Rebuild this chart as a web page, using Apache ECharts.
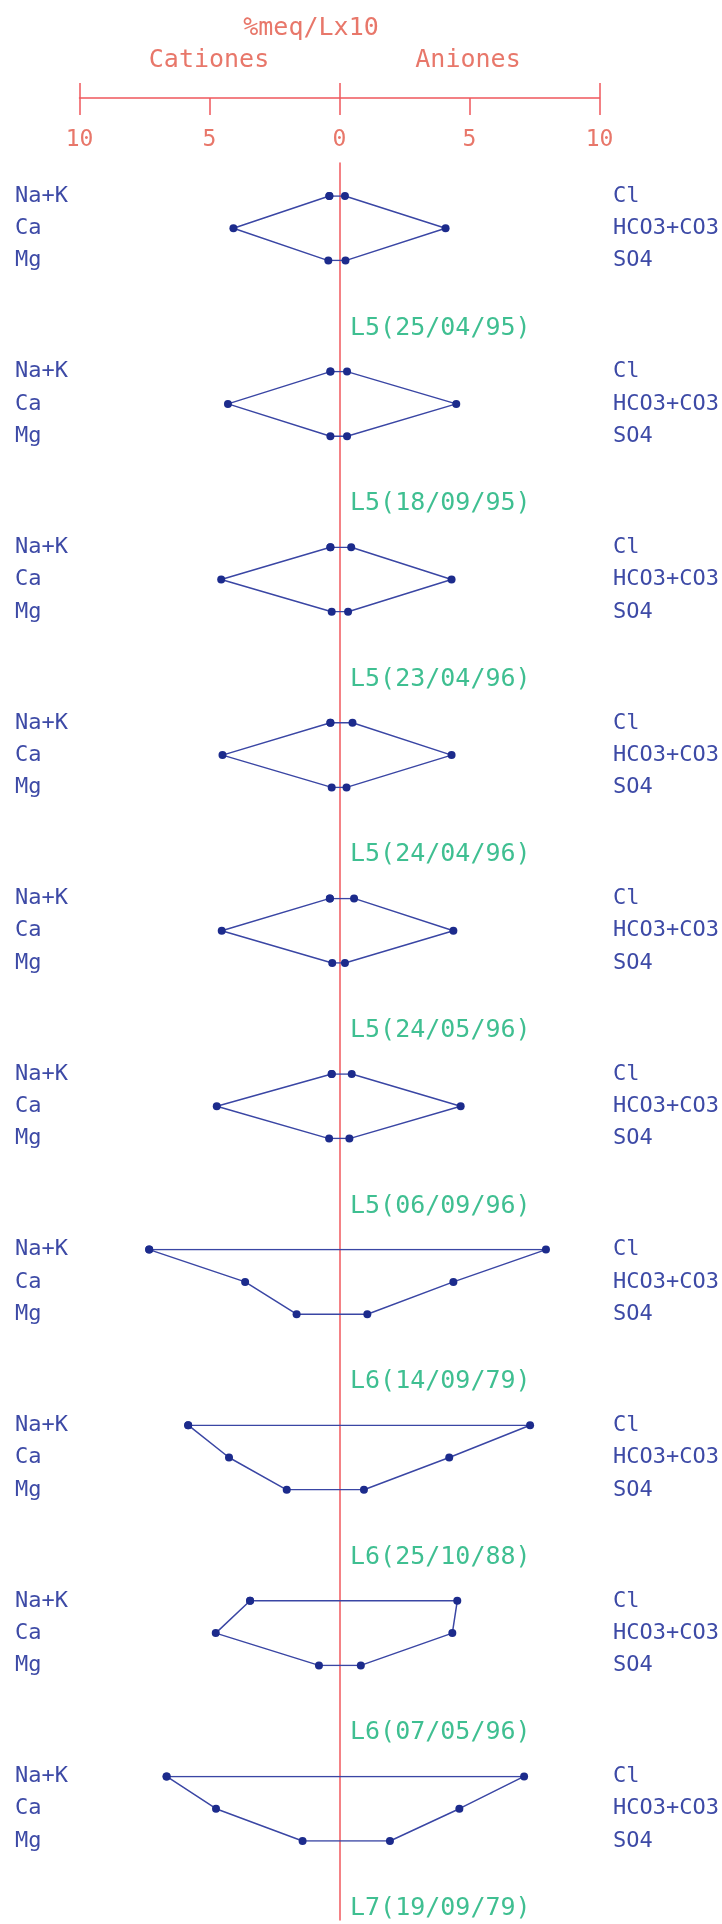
<!DOCTYPE html>
<html>
<head>
<meta charset="utf-8">
<script src="https://cdn.jsdelivr.net/npm/echarts@6/dist/echarts.min.js"></script>
<style>
html,body{margin:0;padding:0;background:#fff;}
#chart{width:722px;height:1924px;}
</style>
</head>
<body>
<div id="chart"></div>
<script>
// ---- data (values in %meq/L x10) ----
const sampleLabels = ['L5(25/04/95)','L5(18/09/95)','L5(23/04/96)','L5(24/04/96)','L5(24/05/96)',
                      'L5(06/09/96)','L6(14/09/79)','L6(25/10/88)','L6(07/05/96)','L7(19/09/79)'];
const cations = ['Na+K','Ca','Mg'];
const anions  = ['Cl','HCO3+CO3','SO4'];
const naK  = [0.39, 0.35, 0.35, 0.35, 0.37, 0.30, 7.32, 5.82, 3.44, 6.65];
const ca   = [4.08, 4.29, 4.55, 4.50, 4.53, 4.72, 3.63, 4.25, 4.76, 4.75];
const mg   = [0.43, 0.35, 0.30, 0.30, 0.28, 0.40, 1.65, 2.03, 0.79, 1.42];
const cl   = [0.21, 0.29, 0.45, 0.50, 0.56, 0.47, 7.94, 7.33, 4.53, 7.10];
const hco3 = [4.08, 4.49, 4.31, 4.31, 4.38, 4.66, 4.38, 4.22, 4.34, 4.61];
const so4  = [0.23, 0.29, 0.33, 0.27, 0.21, 0.38, 1.07, 0.94, 0.82, 1.94];
const scaleTicks = [-10, -5, 0, 5, 10];

// ---- layout / style ----
const GL = 79.5, GR = 722 - 599.5;
const TOP0 = 196, STEP = 175.6, ROWH = 64.6;
const FONT = "'DejaVu Sans Mono', 'Liberation Mono', monospace";
const RED = '#f0575c', RED_TXT = '#e8776a', BLUE_TXT = '#3d4aa6', GREEN = '#3fbf91';
const LINE = '#3a46a4', DOT = '#1c2b8c';

const grid = [], xAxis = [], yAxis = [], series = [], graphic = [];

// top scale
grid.push({left: GL, right: GR, top: 40, height: 58});
xAxis.push({gridIndex: 0, type: 'value', min: scaleTicks[0], max: scaleTicks[4], interval: 5, position: 'bottom',
  axisLine: {onZero: false, lineStyle: {color: RED, width: 1.5}},
  axisTick: {show: true, length: 17, lineStyle: {color: RED, width: 1.5}},
  splitLine: {show: false},
  axisLabel: {color: RED_TXT, fontSize: 23, fontFamily: FONT, margin: 31,
    formatter: v => scaleTicks.indexOf(v) >= 0 ? String(Math.abs(v)) : ''}
});
xAxis.push({gridIndex: 0, type: 'value', min: -10, max: 10, interval: 10, position: 'bottom',
  axisLine: {show: false, onZero: false}, axisLabel: {show: false}, splitLine: {show: false},
  axisTick: {show: true, inside: true, length: 15, lineStyle: {color: RED, width: 1.5}}
});
yAxis.push({gridIndex: 0, type: 'value', min: 0, max: 1, show: false});

// main grid: vertical zero line
grid.push({left: GL, right: GR, top: 163, bottom: 4});
xAxis.push({gridIndex: 1, type: 'value', min: -10, max: 10, show: false});
yAxis.push({gridIndex: 1, type: 'value', min: 0, max: 1,
  axisLine: {show: true, onZero: true, lineStyle: {color: RED, width: 1.5}},
  axisTick: {show: false}, axisLabel: {show: false}, splitLine: {show: false}});

// one grid per sample
sampleLabels.forEach((lab, g) => {
  const gi = g + 2;
  const top = TOP0 + STEP * g;
  grid.push({left: GL, right: GR, top: top, height: ROWH});
  const xi = xAxis.length;
  xAxis.push({gridIndex: gi, type: 'value', min: -10, max: 10, show: false});
  const yi = yAxis.length;
  const labStyle = {color: BLUE_TXT, fontSize: 22, fontFamily: FONT, align: 'left'};
  yAxis.push({gridIndex: gi, type: 'category', data: cations, inverse: true, boundaryGap: false, position: 'left',
    axisLine: {show: false, onZero: false}, axisTick: {show: false}, splitLine: {show: false},
    axisLabel: Object.assign({margin: GL - 15, interval: 0}, labStyle)});
  yAxis.push({gridIndex: gi, type: 'category', data: anions, inverse: true, boundaryGap: false, position: 'right',
    axisLine: {show: false, onZero: false}, axisTick: {show: false}, splitLine: {show: false},
    axisLabel: Object.assign({margin: 13.5, interval: 0}, labStyle)});
  series.push({
    type: 'line', xAxisIndex: xi, yAxisIndex: yi,
    data: [[-naK[g], 0], [-ca[g], 1], [-mg[g], 2], [so4[g], 2], [hco3[g], 1], [cl[g], 0], [-naK[g], 0]],
    symbol: 'circle', symbolSize: 8, showSymbol: true, showAllSymbol: true,
    lineStyle: {color: LINE, width: 1.5}, itemStyle: {color: DOT},
    silent: true, animation: false, z: 5
  });
  graphic.push({type: 'text', x: 350, y: top + 132,
    style: {text: lab, fill: GREEN, fontSize: 25, fontFamily: FONT,
      align: 'left', verticalAlign: 'middle', textAlign: 'left', textVerticalAlign: 'middle'}});
});

graphic.push({type: 'text', x: 311, y: 28,
  style: {text: '%meq/Lx10', fill: RED_TXT, fontSize: 25, fontFamily: FONT,
    align: 'center', verticalAlign: 'middle', textAlign: 'center', textVerticalAlign: 'middle'}});
graphic.push({type: 'text', x: 209, y: 60,
  style: {text: 'Cationes', fill: RED_TXT, fontSize: 25, fontFamily: FONT,
    align: 'center', verticalAlign: 'middle', textAlign: 'center', textVerticalAlign: 'middle'}});
graphic.push({type: 'text', x: 468, y: 60,
  style: {text: 'Aniones', fill: RED_TXT, fontSize: 25, fontFamily: FONT,
    align: 'center', verticalAlign: 'middle', textAlign: 'center', textVerticalAlign: 'middle'}});

const chart = echarts.init(document.getElementById('chart'), null, {renderer: 'canvas'});
chart.setOption({
  animation: false,
  backgroundColor: '#ffffff',
  grid, xAxis, yAxis, series, graphic
});
</script>
</body>
</html>
